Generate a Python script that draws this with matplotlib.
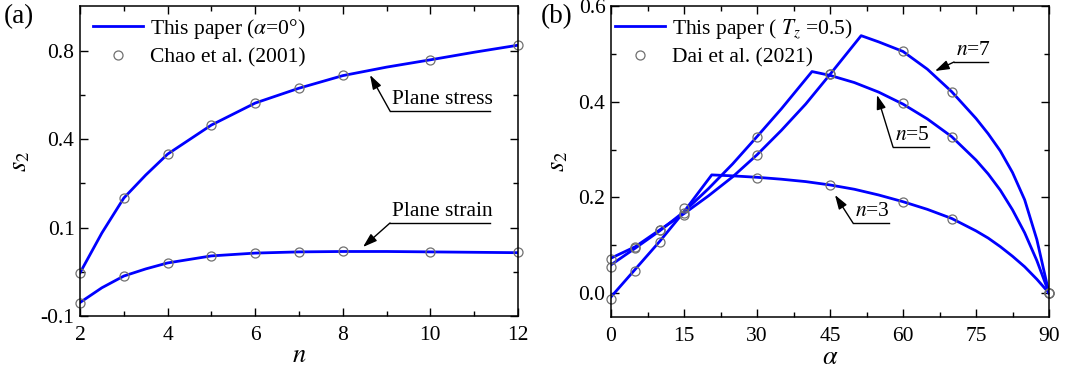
import numpy as np
import matplotlib
matplotlib.use("Agg")
import matplotlib.pyplot as plt
from matplotlib.ticker import FixedLocator, MultipleLocator, FixedFormatter, FormatStrFormatter

plt.rcParams["font.family"] = ["Liberation Serif", "DejaVu Serif"]
plt.rcParams["mathtext.fontset"] = "stix"
plt.rcParams["axes.unicode_minus"] = False
plt.rcParams["font.size"] = 15.5

# -----------------------------
# DATA (a): s2 vs n, alpha = 0
# -----------------------------
n_curve = [2, 2.5, 3, 3.5, 4, 5, 6, 7, 8, 9, 10, 11, 12]
stress_curve = [-0.015, 0.085, 0.189, 0.266, 0.342, 0.457, 0.551, 0.618, 0.677, 0.718,
                0.754, 0.792, 0.828]
strain_curve = [-0.076, -0.047, -0.022, -0.006, 0.008, 0.025, 0.032, 0.035, 0.036, 0.036,
                0.035, 0.034, 0.033]

n_chao = [2, 3, 4, 5, 6, 7, 8, 10, 12]
stress_chao = [-0.016, 0.189, 0.342, 0.457, 0.551, 0.618, 0.679, 0.752, 0.828]
strain_chao = [-0.077, -0.022, 0.008, 0.025, 0.032, 0.035, 0.036, 0.035, 0.034]

a_yticks = [-0.1, 0.1, 0.4, 0.8]

# -----------------------------
# DATA (b): s2 vs alpha, Tz = 0.5
# -----------------------------
alpha_n3 = [0, 5, 10, 15, 20.7, 25, 30, 35, 40, 45, 50, 55, 60, 65, 70, 75,
            77.5, 80, 82.5, 85, 87.5, 90]
s2_n3 = [-0.008, 0.050, 0.108, 0.170, 0.247, 0.245, 0.242, 0.238, 0.233, 0.226,
         0.217, 0.205, 0.191, 0.175, 0.156, 0.130, 0.115, 0.097, 0.077, 0.055, 0.029, 0.0]

alpha_n5 = [0, 5, 10, 15, 20, 25, 30, 35, 41.3, 45, 50, 55, 60, 65, 70, 75,
            77.5, 80, 82.5, 85, 87.5, 90]
s2_n5 = [0.059, 0.094, 0.130, 0.170, 0.218, 0.270, 0.327, 0.385, 0.463, 0.455,
         0.440, 0.420, 0.395, 0.364, 0.327, 0.278, 0.249, 0.215, 0.174, 0.126, 0.068, 0.0]

alpha_n7 = [0, 5, 10, 15, 20, 25, 30, 35, 40, 45, 51.4, 55, 60, 65, 70, 75,
            77.5, 80, 82.5, 85, 87.5, 90]
s2_n7 = [0.073, 0.097, 0.132, 0.166, 0.203, 0.243, 0.289, 0.340, 0.395, 0.457,
         0.538, 0.525, 0.505, 0.468, 0.421, 0.365, 0.333, 0.297, 0.252, 0.195, 0.112, 0.0]

alpha_dai = [0, 5, 10, 15, 30, 45, 60, 70, 90]
dai_n3 = [-0.013, 0.046, 0.107, 0.163, 0.241, 0.225, 0.191, 0.155, 0.0]
dai_n5 = [0.054, 0.094, 0.132, 0.168, 0.327, 0.457, 0.397, 0.327, 0.0]
dai_n7 = [0.071, 0.096, 0.132, 0.178, 0.289, 0.457, 0.505, 0.421, 0.0]

line_kw = dict(color="#0000ff", lw=2.0)
mark_kw = dict(ls="none", marker="o", ms=6.5, mfc="none", mec="#707070", mew=0.9)
FS = 15.5


def fwd(v):
    v = np.asarray(v, dtype=float)
    return np.sqrt(np.maximum((v + 0.2125) / 0.05, 0)) - 1.5


def inv(k):
    k = np.asarray(k, dtype=float)
    return 0.05 * (k + 1.5) ** 2 - 0.2125


def style_ticks(ax):
    ax.tick_params(which="both", direction="in", top=True, right=True, width=1.0,
                   labelsize=FS)
    ax.tick_params(axis="x", pad=7)
    ax.tick_params(axis="y", pad=4)
    ax.tick_params(which="major", length=6)
    ax.tick_params(which="minor", length=3.5)
    for s in ax.spines.values():
        s.set_linewidth(1.1)


def label_arrow(ax, text, head, tail, width):
    # text sits on an underline that starts at "tail", arrow to "head" (axes fraction)
    ax.annotate("", xy=head, xytext=tail, xycoords="axes fraction",
                arrowprops=dict(arrowstyle="-|>,head_length=0.55,head_width=0.18",
                                color="black", lw=1.0, shrinkA=0, shrinkB=0))
    ax.plot([tail[0], tail[0] + width], [tail[1], tail[1]], color="black", lw=1.0,
            transform=ax.transAxes, clip_on=False)
    ax.text(tail[0] + 0.004, tail[1] + 0.006, text, transform=ax.transAxes,
            ha="left", va="bottom", fontsize=FS)


fig = plt.figure(figsize=(10.65, 3.82), dpi=100)

# -----------------------------
# (a)
# -----------------------------
ax1 = fig.add_axes([80 / 1065, 66 / 382, 438 / 1065, 310 / 382])
ax1.set_yscale("function", functions=(fwd, inv))
ax1.plot(n_curve, stress_curve, label=r"This paper ($\alpha$=0°)", **line_kw)
ax1.plot(n_curve, strain_curve, **line_kw)
ax1.plot(n_chao, stress_chao, label="Chao et al. (2001)", clip_on=False, **mark_kw)
ax1.plot(n_chao, strain_chao, clip_on=False, **mark_kw)
ax1.set_xlim(2, 12)
ax1.set_ylim(-0.1, 1.04)
ax1.xaxis.set_major_locator(MultipleLocator(2))
ax1.xaxis.set_minor_locator(MultipleLocator(1))
ax1.yaxis.set_major_locator(FixedLocator(a_yticks))
ax1.yaxis.set_major_formatter(FixedFormatter([str(t) for t in a_yticks]))
ax1.yaxis.set_minor_locator(FixedLocator(inv([0.5, 1.5, 2.5])))
style_ticks(ax1)
ax1.set_xlabel(r"$n$", fontsize=19, labelpad=0)
ax1.set_ylabel(r"$s_2$", fontsize=19, labelpad=6)
ax1.legend(loc="upper left", bbox_to_anchor=((93 - 80) / 438, (316 - 17) / 310),
           frameon=False, handlelength=2.3, handletextpad=0.35, labelspacing=0.3,
           borderaxespad=0, borderpad=0, fontsize=FS)
label_arrow(ax1, "Plane stress", ((370 - 80) / 438, (316 - 75) / 310),
            ((390 - 80) / 438, (316 - 111) / 310), 100 / 438)
label_arrow(ax1, "Plane strain", ((363 - 80) / 438, (316 - 247) / 310),
            ((390 - 80) / 438, (316 - 223) / 310), 100 / 438)
fig.text(4 / 1065, 1 - 17 / 382, "(a)", fontsize=19.5, va="center", ha="left")

# -----------------------------
# (b)
# -----------------------------
ax2 = fig.add_axes([611 / 1065, 65 / 382, 438 / 1065, 311 / 382])
ax2.plot(alpha_n3, s2_n3, label=r"This paper ( $T_z$ =0.5)", **line_kw)
ax2.plot(alpha_n5, s2_n5, **line_kw)
ax2.plot(alpha_n7, s2_n7, **line_kw)
ax2.plot(alpha_dai, dai_n3, label="Dai et al. (2021)", clip_on=False, **mark_kw)
ax2.plot(alpha_dai, dai_n5, clip_on=False, **mark_kw)
ax2.plot(alpha_dai, dai_n7, clip_on=False, **mark_kw)
ax2.set_xlim(0, 90)
ax2.set_ylim(-0.05, 0.6)
ax2.xaxis.set_major_locator(MultipleLocator(15))
ax2.xaxis.set_minor_locator(MultipleLocator(7.5))
ax2.yaxis.set_major_locator(MultipleLocator(0.2))
ax2.yaxis.set_minor_locator(MultipleLocator(0.1))
ax2.yaxis.set_major_formatter(FormatStrFormatter("%.1f"))
style_ticks(ax2)
ax2.set_xlabel(r"$\alpha$", fontsize=19, labelpad=1)
ax2.set_ylabel(r"$s_2$", fontsize=19, labelpad=6)
ax2.legend(loc="upper left", bbox_to_anchor=((615 - 611) / 438, (317 - 17) / 311),
           frameon=False, handlelength=2.3, handletextpad=0.35, labelspacing=0.3,
           borderaxespad=0, borderpad=0, fontsize=FS)
label_arrow(ax2, r"$n$=7", ((935 - 611) / 438, (317 - 71) / 311),
            ((954 - 611) / 438, (317 - 62) / 311), 34 / 438)
label_arrow(ax2, r"$n$=5", ((877 - 611) / 438, (317 - 95) / 311),
            ((893 - 611) / 438, (317 - 147) / 311), 36 / 438)
label_arrow(ax2, r"$n$=3", ((835 - 611) / 438, (317 - 195) / 311),
            ((853 - 611) / 438, (317 - 223) / 311), 36 / 438)
fig.text(541 / 1065, 1 - 17 / 382, "(b)", fontsize=19.5, va="center", ha="left")

fig.savefig("out.png", dpi=100)
